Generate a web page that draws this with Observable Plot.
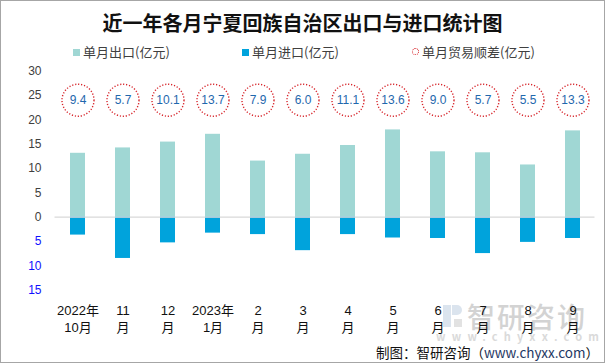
<!DOCTYPE html>
<html>
<head>
<meta charset="utf-8">
<script src="https://cdn.jsdelivr.net/npm/d3@7"></script>
<script src="https://cdn.jsdelivr.net/npm/@observablehq/plot@0.6"></script>
<style>
  body { margin: 0; background: #fff; }
  #wrap { position: relative; width: 605px; height: 363px; overflow: hidden; background: #fff;
          font-family: "Noto Sans CJK SC", "Liberation Sans", sans-serif; }
  #border { position: absolute; left: 0; top: 0; width: 605px; height: 363px; box-sizing: border-box;
            border: 1px solid #a6a6a6; z-index: 10; pointer-events: none; }
  #title { position: absolute; left: 0; top: 12px; width: 605px; text-align: center; font-size: 20px;
           line-height: 22px; font-weight: 700; color: #111; }
  .leg { position: absolute; top: 44px; font-size: 13px; line-height: 16px; color: #404040; white-space: nowrap; }
  .sw { position: absolute; }
  #wm { position: absolute; left: 440px; top: 300px; color: #d2d2d2; z-index: 0; }
  #chart { position: absolute; left: 0; top: 0; z-index: 2; }
  #caption { position: absolute; right: 6px; top: 343px; font-size: 13.5px; line-height: 18px; color: #111; z-index: 3; white-space: nowrap; }
</style>
</head>
<body>
<div id="wrap">
  <div id="border"></div>
  <div id="title"></div>
  <div id="legend"></div>
  <div id="wm">
    <div style="position:absolute;left:3px;top:5px;width:8px;height:22px;background:#dbe4ee;"></div>
    <div style="position:absolute;left:12px;top:5px;width:10px;height:10px;border-radius:0 5px 5px 0;background:#dbe4ee;"></div>
    <div style="position:absolute;left:14px;top:19px;width:8px;height:8px;background:#e2e2e2;"></div>
    <div style="position:absolute;left:27px;top:0px;font-size:28px;line-height:32px;font-weight:500;letter-spacing:2px;white-space:nowrap;color:#d3d3d3;">智研咨询</div>
    <div style="position:absolute;left:-4px;top:30px;font-size:11px;line-height:12px;letter-spacing:6.2px;white-space:nowrap;color:#dadada;font-weight:700;">www.chyxx.com</div>
  </div>
  <div id="chart"></div>
  <div id="caption"></div>
</div>
<script>
// ---- data ----
const months = ["2022-10","2022-11","2022-12","2023-01","2023-02","2023-03","2023-04","2023-05","2023-06","2023-07","2023-08","2023-09"];
const xLine1 = ["2022年","11","12","2023年","2","3","4","5","6","7","8","9"];
const xLine2 = ["10月","月","月","1月","月","月","月","月","月","月","月","月"];
const exportValues = [13.1, 14.2, 15.4, 17.0, 11.5, 12.9, 14.7, 17.9, 13.4, 13.2, 10.7, 17.7];
const importValues = [3.7, 8.5, 5.3, 3.3, 3.6, 6.9, 3.6, 4.3, 4.4, 7.5, 5.2, 4.4];
const balanceValues = [9.4, 5.7, 10.1, 13.7, 7.9, 6.0, 11.1, 13.6, 9.0, 5.7, 5.5, 13.3];
const yTicksUpper = [0, 5, 10, 15, 20, 25, 30];
const yTicksLower = [-5, -10, -15];
const bubbleLevel = 24;
const titleText = "近一年各月宁夏回族自治区出口与进口统计图";
const legendLabels = ["单月出口(亿元)", "单月进口(亿元)", "单月贸易顺差(亿元)"];
const captionPrefix = "制图：智研咨询（";
const captionUrl = "www.chyxx.com";
const captionSuffix = "）";

// ---- colors ----
const cExport = "#a0d7d4";
const cImport = "#00a3dc";
const cBubble = "#d7262c";
const cBubbleText = "#1f68ad";

const rows = months.map((m, i) => ({
  m,
  exp: exportValues[i],
  imp: -importValues[i],
  bal: balanceValues[i],
  label: xLine1[i] + "\n" + xLine2[i]
}));

document.getElementById("title").textContent = titleText;

const legend = document.getElementById("legend");
const legX = [73, 242, 412];
legendLabels.forEach((t, i) => {
  const sw = document.createElement("div");
  sw.className = "sw";
  if (i === 2) {
    Object.assign(sw.style, {left: legX[i] + "px", top: "48px", width: "7px", height: "7px",
      borderRadius: "50%", border: "1px dotted " + cBubble, boxSizing: "border-box"});
  } else {
    Object.assign(sw.style, {left: legX[i] + "px", top: "48.5px", width: "7px", height: "7px",
      background: i === 0 ? cExport : cImport});
  }
  legend.appendChild(sw);
  const s = document.createElement("div");
  s.className = "leg";
  s.style.left = (legX[i] + 10) + "px";
  s.textContent = t;
  legend.appendChild(s);
});

const cap = document.getElementById("caption");
cap.innerHTML = "";
const c1 = document.createElement("span"); c1.textContent = captionPrefix;
const c2 = document.createElement("span"); c2.textContent = captionUrl; c2.style.color = "#1f3864";
const c3 = document.createElement("span"); c3.textContent = captionSuffix;
cap.append(c1, c2, c3);

const chart = Plot.plot({
  width: 605,
  height: 363,
  marginLeft: 54.5,
  marginRight: 10.5,
  marginTop: 70.5,
  marginBottom: 73.4,
  style: { background: "transparent", fontFamily: "'Liberation Sans', 'Noto Sans CJK SC', sans-serif", fontSize: "12px" },
  x: { domain: months, paddingInner: 0.667, paddingOuter: 0.333, axis: null },
  y: { domain: [-15, 30], axis: null },
  marks: [
    Plot.barY(rows, { x: "m", y: "exp", fill: cExport }),
    Plot.barY(rows, { x: "m", y: "imp", fill: cImport }),
    Plot.ruleY([0], { stroke: "#d9d9d9", strokeWidth: 1.2 }),
    Plot.axisY({ ticks: yTicksUpper, tickSize: 0, tickPadding: 13.5, label: null,
                 tickFormat: d => String(Math.abs(d)), fill: "#404040", fontSize: 12 }),
    Plot.axisY({ ticks: yTicksLower, tickSize: 0, tickPadding: 13.5, label: null,
                 tickFormat: d => String(Math.abs(d)), fill: "#1010ff", fontSize: 12 }),
    Plot.text(rows, { x: "m", frameAnchor: "bottom", text: "label", lineAnchor: "top",
                      dy: 12, lineHeight: 1.36, fontSize: 13, fill: "#111",
                      fontFamily: "'Liberation Sans', 'Noto Sans CJK SC', sans-serif" }),
    Plot.dot(rows, { x: "m", y: bubbleLevel, r: 16, fill: "white", stroke: cBubble,
                     strokeWidth: 1.4, strokeDasharray: "1.2 1.8" }),
    Plot.text(rows, { x: "m", y: bubbleLevel, text: d => d.bal.toFixed(1), fill: cBubbleText, fontSize: 12 })
  ]
});
document.getElementById("chart").appendChild(chart);
</script>
</body>
</html>
